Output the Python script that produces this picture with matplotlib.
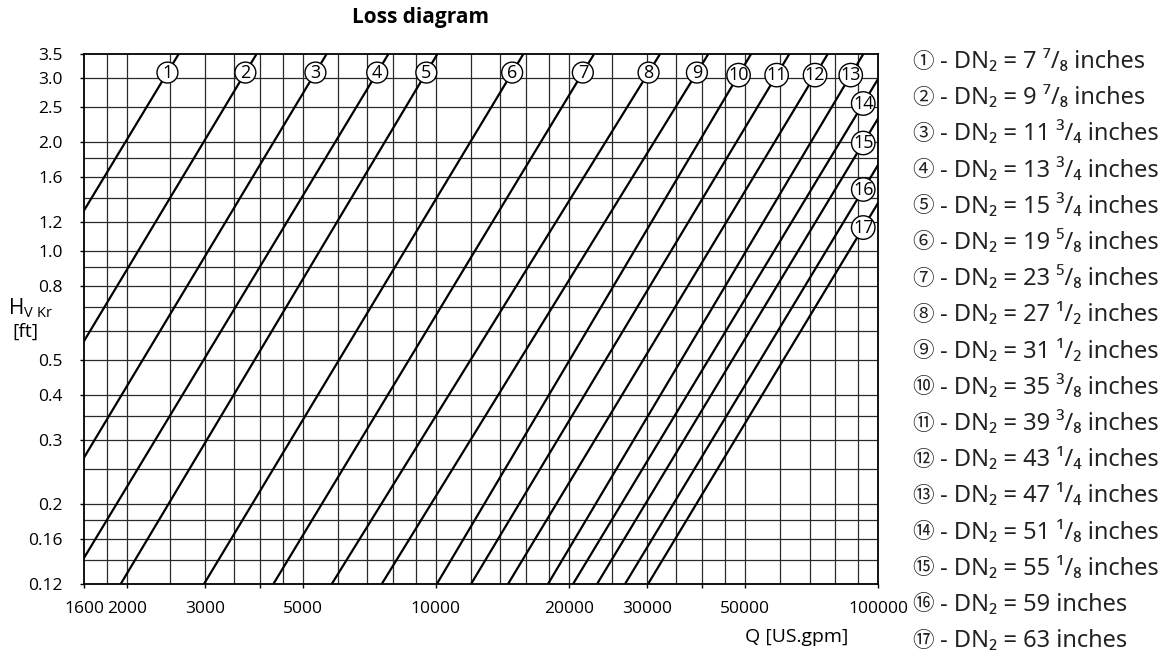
import numpy as np
import matplotlib.pyplot as plt
from matplotlib.ticker import NullLocator

plt.rcParams['font.family'] = ['Open Sans', 'Noto Sans', 'Noto Sans CJK SC', 'DejaVu Sans']
plt.rcParams['mathtext.fontset'] = 'custom'
plt.rcParams['mathtext.rm'] = 'Open Sans'
plt.rcParams['mathtext.it'] = 'Open Sans:italic'
plt.rcParams['mathtext.bf'] = 'Open Sans:bold'

# flow (US.gpm) where each line meets H = 0.12 ft and H = 3.5 ft (extended past the frame)
h_bottom = 0.12
h_top = 3.5
q_bottom = [493, 748, 1077, 1474, 1937, 2989, 4290, 5814, 7543, 10050,
            12010, 14560, 17930, 20430, 23150, 26780, 30190]
q_top = [2620, 3930, 5660, 7810, 10080, 15770, 22790, 32140, 41330, 51630,
         63010, 76980, 92630, 108200, 122500, 141800, 159800]

line_numbers = [str(i) for i in range(1, 18)]
circled = ['①', '②', '③', '④', '⑤', '⑥', '⑦', '⑧', '⑨', '⑩',
           '⑪', '⑫', '⑬', '⑭', '⑮', '⑯', '⑰']
dn_sizes = ['7 ⁷/₈', '9 ⁷/₈', '11 ³/₄', '13 ³/₄', '15 ³/₄', '19 ⁵/₈', '23 ⁵/₈',
            '27 ¹/₂', '31 ¹/₂', '35 ³/₈', '39 ³/₈', '43 ¹/₄', '47 ¹/₄',
            '51 ¹/₈', '55 ¹/₈', '59', '63']

x_ticks = [1600, 2000, 3000, 4000, 5000, 10000, 20000, 30000, 40000, 50000, 100000]
x_tick_labels = ['1600', '2000', '3000', '', '5000', '10000', '20000', '30000', '', '50000', '100000']
x_grid = [1800, 2000, 2500, 3000, 3500, 4000, 4500, 5000, 6000, 7000, 8000, 9000,
          10000, 12000, 14000, 16000, 18000, 20000, 25000, 30000, 35000, 40000,
          45000, 50000, 60000, 70000, 80000, 90000]

y_ticks = [0.12, 0.16, 0.2, 0.3, 0.4, 0.5, 0.8, 1.0, 1.2, 1.6, 2.0, 2.5, 3.0, 3.5]
y_tick_labels = ['0.12', '0.16', '0.2', '0.3', '0.4', '0.5', '0.8', '1.0', '1.2',
                 '1.6', '2.0', '2.5', '3.0', '3.5']
y_grid = [0.14, 0.16, 0.18, 0.2, 0.25, 0.3, 0.35, 0.4, 0.5, 0.6, 0.7, 0.8, 0.9,
          1.0, 1.2, 1.4, 1.6, 1.8, 2.0, 2.5, 3.0]

W, H = 1168, 660
fig = plt.figure(figsize=(W / 100, H / 100), dpi=100)
ax = fig.add_axes([84 / W, 1 - 584 / H, 794 / W, 530 / H])
ax.set_xscale('log')
ax.set_yscale('log')
ax.set_xlim(1600, 100000)
ax.set_ylim(h_bottom, h_top)

for q in x_grid:
    ax.axvline(q, color='#2a2a2a', lw=0.9, zorder=1)
for h in y_grid:
    ax.axhline(h, color='#2a2a2a', lw=0.9, zorder=1)

for qb, qt in zip(q_bottom, q_top):
    ax.plot([qb, qt], [h_bottom, h_top], color='black', lw=1.6, zorder=2,
            solid_capstyle='butt')


def q_on_line(i, h):
    t = np.log(h / h_bottom) / np.log(h_top / h_bottom)
    return np.exp(np.log(q_bottom[i]) + t * np.log(q_top[i] / q_bottom[i]))


def h_on_line(i, q):
    t = np.log(q / q_bottom[i]) / np.log(q_top[i] / q_bottom[i])
    return np.exp(np.log(h_bottom) + t * np.log(h_top / h_bottom))


# circled line numbers sitting on the lines
for i, num in enumerate(line_numbers):
    if i < 9:
        px, py = q_on_line(i, 3.11), 3.11
    elif i < 13:
        px, py = q_on_line(i, 3.06), 3.06
    else:
        px, py = 92600, h_on_line(i, 92600)
    ax.text(px, py, num, ha='center', va='center', fontsize=13, zorder=4,
            bbox=dict(boxstyle='circle,pad=0.08', fc='white', ec='black', lw=1))

ax.set_xticks(x_ticks)
ax.set_xticklabels(x_tick_labels)
ax.set_yticks(y_ticks)
ax.set_yticklabels(y_tick_labels)
ax.xaxis.set_minor_locator(NullLocator())
ax.yaxis.set_minor_locator(NullLocator())
ax.tick_params(axis='x', direction='out', length=3, width=1, pad=9, labelsize=12.5)
ax.tick_params(axis='y', direction='out', length=3, width=1, pad=12.5, labelsize=12.5)
for s in ax.spines.values():
    s.set_linewidth(1.3)

fig.text(420 / W, 1 - 18 / H, 'Loss diagram', ha='center', va='center',
         fontsize=15, fontweight='bold')
fig.text(848 / W, 1 - 637 / H, 'Q [US.gpm]', ha='right', va='center', fontsize=14)
fig.text(8 / W, 1 - 308 / H, r'H$_{\mathrm{V\ Kr}}$', ha='left', va='center', fontsize=15)
fig.text(12 / W, 1 - 332 / H, '[ft]', ha='left', va='center', fontsize=14)

# legend of nominal diameters (Noto Sans so all the small figures come from one font)
legend_family = ['Noto Sans', 'Noto Sans CJK SC', 'DejaVu Sans']
for i in range(17):
    y = 1 - (62 + i * 36.2) / H
    fig.text(923 / W, y, circled[i], ha='center', va='center', fontsize=15.5,
             color='#222222', family=legend_family)
    fig.text(940 / W, y, '- DN₂ = ' + dn_sizes[i] + ' inches', ha='left', va='center',
             fontsize=17, color='#222222', family=legend_family)

fig.savefig('out.png', dpi=100)
